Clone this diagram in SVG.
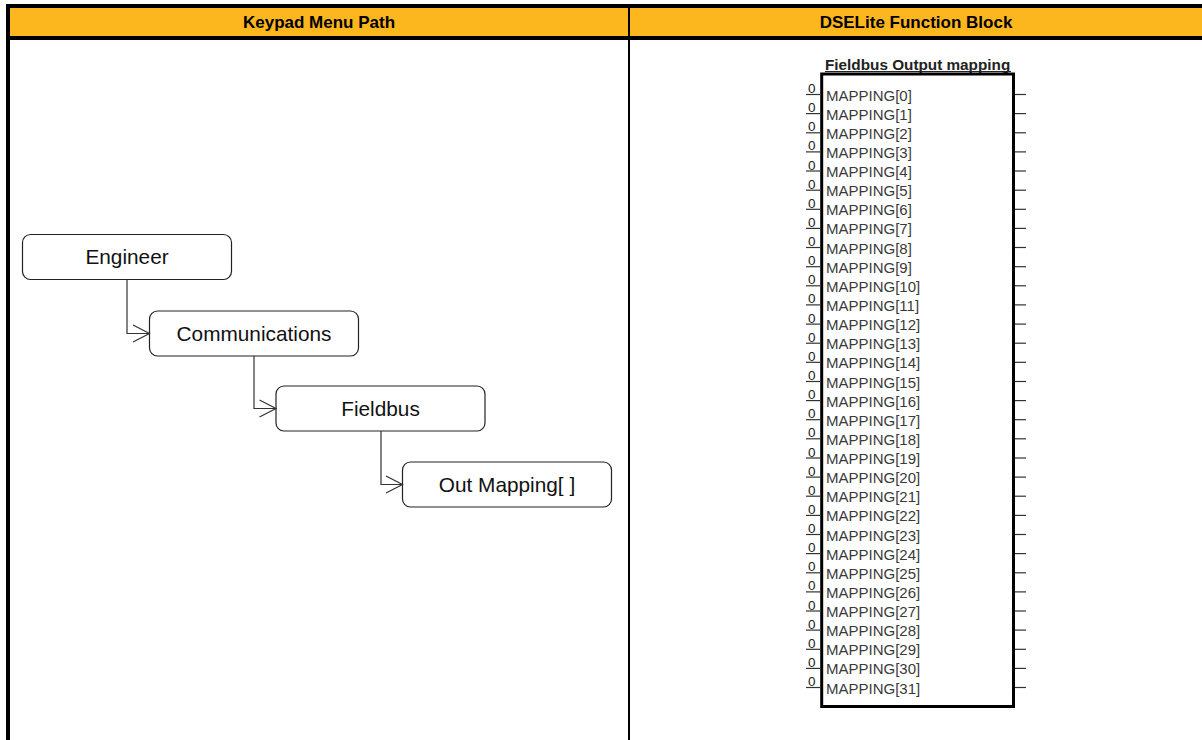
<svg xmlns="http://www.w3.org/2000/svg" width="1202" height="740" viewBox="0 0 1202 740">
<defs>
<style>
.hdr{font-family:"Liberation Sans",Arial,sans-serif;font-weight:bold;font-size:17px;fill:#000;text-anchor:middle}
.node rect{fill:#fff;stroke:#222;stroke-width:1.2}
.node text{font-family:"Liberation Sans",Arial,sans-serif;font-size:20.8px;fill:#111;text-anchor:middle}
.conn path{fill:none;stroke:#333;stroke-width:1.2}
.lbl{font-family:"Liberation Sans",Arial,sans-serif;font-size:15px;fill:#3a3a3a}
.zero{font-family:"Liberation Sans",Arial,sans-serif;font-size:13.5px;fill:#222}
.pin{stroke:#333;stroke-width:1.2}
.ttl{font-family:"Liberation Sans",Arial,sans-serif;font-weight:bold;font-size:15.3px;fill:#222}
</style>
</defs>
<rect width="1202" height="740" fill="#fff"/>
<g id="table">
<rect x="6" y="8" width="1196" height="28" fill="#FDB71E"/>
<rect x="6" y="4" width="1196" height="4" fill="#000"/>
<rect x="6" y="36" width="1196" height="4" fill="#000"/>
<rect x="6" y="4" width="4" height="736" fill="#000"/>
<rect x="628" y="8" width="2" height="732" fill="#000"/>
<text class="hdr" x="319" y="28">Keypad Menu Path</text>
<text class="hdr" x="916" y="28">DSELite Function Block</text>
</g>
<g id="node-engineer" class="node"><rect x="22.5" y="234.5" width="209" height="45" rx="8"/><text x="127" y="264">Engineer</text></g>
<g id="node-communications" class="node"><rect x="149.5" y="311" width="209" height="45" rx="8"/><text x="254" y="340.5">Communications</text></g>
<g id="node-fieldbus" class="node"><rect x="276" y="386" width="209" height="45" rx="8"/><text x="380.5" y="415.5">Fieldbus</text></g>
<g id="node-outmapping" class="node"><rect x="402.5" y="462" width="209" height="45" rx="8"/><text x="507" y="491.5">Out Mapping[ ]</text></g>
<g id="connectors" class="conn">
<path d="M127 279.5 V333.5 H149.5"/><path d="M133 325 L149.5 333.5 L133 342"/>
<path d="M254 356 V408.5 H276"/><path d="M259.5 400 L276 408.5 L259.5 417"/>
<path d="M381 431 V484.5 H402.5"/><path d="M386 476 L402.5 484.5 L386 493"/>
</g>
<g id="function-block">
<text class="ttl" x="825" y="69.5">Fieldbus Output mapping</text>
<line x1="825" y1="71.5" x2="1011" y2="71.5" stroke="#222" stroke-width="1"/>
<rect x="821.7" y="74" width="191.8" height="632.5" fill="#fff" stroke="#000" stroke-width="3"/>
<g id="pins">
<line class="pin" x1="806" y1="94.5" x2="821" y2="94.5"/><line class="pin" x1="1015" y1="94.5" x2="1026" y2="94.5"/><text class="zero" x="808" y="93">0</text><text class="lbl" x="826" y="100.5">MAPPING[0]</text>
<line class="pin" x1="806" y1="113.6" x2="821" y2="113.6"/><line class="pin" x1="1015" y1="113.6" x2="1026" y2="113.6"/><text class="zero" x="808" y="112.1">0</text><text class="lbl" x="826" y="119.6">MAPPING[1]</text>
<line class="pin" x1="806" y1="132.8" x2="821" y2="132.8"/><line class="pin" x1="1015" y1="132.8" x2="1026" y2="132.8"/><text class="zero" x="808" y="131.3">0</text><text class="lbl" x="826" y="138.8">MAPPING[2]</text>
<line class="pin" x1="806" y1="151.9" x2="821" y2="151.9"/><line class="pin" x1="1015" y1="151.9" x2="1026" y2="151.9"/><text class="zero" x="808" y="150.4">0</text><text class="lbl" x="826" y="157.9">MAPPING[3]</text>
<line class="pin" x1="806" y1="171" x2="821" y2="171"/><line class="pin" x1="1015" y1="171" x2="1026" y2="171"/><text class="zero" x="808" y="169.5">0</text><text class="lbl" x="826" y="177">MAPPING[4]</text>
<line class="pin" x1="806" y1="190.2" x2="821" y2="190.2"/><line class="pin" x1="1015" y1="190.2" x2="1026" y2="190.2"/><text class="zero" x="808" y="188.7">0</text><text class="lbl" x="826" y="196.2">MAPPING[5]</text>
<line class="pin" x1="806" y1="209.3" x2="821" y2="209.3"/><line class="pin" x1="1015" y1="209.3" x2="1026" y2="209.3"/><text class="zero" x="808" y="207.8">0</text><text class="lbl" x="826" y="215.3">MAPPING[6]</text>
<line class="pin" x1="806" y1="228.4" x2="821" y2="228.4"/><line class="pin" x1="1015" y1="228.4" x2="1026" y2="228.4"/><text class="zero" x="808" y="226.9">0</text><text class="lbl" x="826" y="234.4">MAPPING[7]</text>
<line class="pin" x1="806" y1="247.5" x2="821" y2="247.5"/><line class="pin" x1="1015" y1="247.5" x2="1026" y2="247.5"/><text class="zero" x="808" y="246">0</text><text class="lbl" x="826" y="253.5">MAPPING[8]</text>
<line class="pin" x1="806" y1="266.7" x2="821" y2="266.7"/><line class="pin" x1="1015" y1="266.7" x2="1026" y2="266.7"/><text class="zero" x="808" y="265.2">0</text><text class="lbl" x="826" y="272.7">MAPPING[9]</text>
<line class="pin" x1="806" y1="285.8" x2="821" y2="285.8"/><line class="pin" x1="1015" y1="285.8" x2="1026" y2="285.8"/><text class="zero" x="808" y="284.3">0</text><text class="lbl" x="826" y="291.8">MAPPING[10]</text>
<line class="pin" x1="806" y1="304.9" x2="821" y2="304.9"/><line class="pin" x1="1015" y1="304.9" x2="1026" y2="304.9"/><text class="zero" x="808" y="303.4">0</text><text class="lbl" x="826" y="310.9">MAPPING[11]</text>
<line class="pin" x1="806" y1="324.1" x2="821" y2="324.1"/><line class="pin" x1="1015" y1="324.1" x2="1026" y2="324.1"/><text class="zero" x="808" y="322.6">0</text><text class="lbl" x="826" y="330.1">MAPPING[12]</text>
<line class="pin" x1="806" y1="343.2" x2="821" y2="343.2"/><line class="pin" x1="1015" y1="343.2" x2="1026" y2="343.2"/><text class="zero" x="808" y="341.7">0</text><text class="lbl" x="826" y="349.2">MAPPING[13]</text>
<line class="pin" x1="806" y1="362.3" x2="821" y2="362.3"/><line class="pin" x1="1015" y1="362.3" x2="1026" y2="362.3"/><text class="zero" x="808" y="360.8">0</text><text class="lbl" x="826" y="368.3">MAPPING[14]</text>
<line class="pin" x1="806" y1="381.5" x2="821" y2="381.5"/><line class="pin" x1="1015" y1="381.5" x2="1026" y2="381.5"/><text class="zero" x="808" y="380">0</text><text class="lbl" x="826" y="387.5">MAPPING[15]</text>
<line class="pin" x1="806" y1="400.6" x2="821" y2="400.6"/><line class="pin" x1="1015" y1="400.6" x2="1026" y2="400.6"/><text class="zero" x="808" y="399.1">0</text><text class="lbl" x="826" y="406.6">MAPPING[16]</text>
<line class="pin" x1="806" y1="419.7" x2="821" y2="419.7"/><line class="pin" x1="1015" y1="419.7" x2="1026" y2="419.7"/><text class="zero" x="808" y="418.2">0</text><text class="lbl" x="826" y="425.7">MAPPING[17]</text>
<line class="pin" x1="806" y1="438.8" x2="821" y2="438.8"/><line class="pin" x1="1015" y1="438.8" x2="1026" y2="438.8"/><text class="zero" x="808" y="437.3">0</text><text class="lbl" x="826" y="444.8">MAPPING[18]</text>
<line class="pin" x1="806" y1="458" x2="821" y2="458"/><line class="pin" x1="1015" y1="458" x2="1026" y2="458"/><text class="zero" x="808" y="456.5">0</text><text class="lbl" x="826" y="464">MAPPING[19]</text>
<line class="pin" x1="806" y1="477.1" x2="821" y2="477.1"/><line class="pin" x1="1015" y1="477.1" x2="1026" y2="477.1"/><text class="zero" x="808" y="475.6">0</text><text class="lbl" x="826" y="483.1">MAPPING[20]</text>
<line class="pin" x1="806" y1="496.2" x2="821" y2="496.2"/><line class="pin" x1="1015" y1="496.2" x2="1026" y2="496.2"/><text class="zero" x="808" y="494.7">0</text><text class="lbl" x="826" y="502.2">MAPPING[21]</text>
<line class="pin" x1="806" y1="515.4" x2="821" y2="515.4"/><line class="pin" x1="1015" y1="515.4" x2="1026" y2="515.4"/><text class="zero" x="808" y="513.9">0</text><text class="lbl" x="826" y="521.4">MAPPING[22]</text>
<line class="pin" x1="806" y1="534.5" x2="821" y2="534.5"/><line class="pin" x1="1015" y1="534.5" x2="1026" y2="534.5"/><text class="zero" x="808" y="533">0</text><text class="lbl" x="826" y="540.5">MAPPING[23]</text>
<line class="pin" x1="806" y1="553.6" x2="821" y2="553.6"/><line class="pin" x1="1015" y1="553.6" x2="1026" y2="553.6"/><text class="zero" x="808" y="552.1">0</text><text class="lbl" x="826" y="559.6">MAPPING[24]</text>
<line class="pin" x1="806" y1="572.8" x2="821" y2="572.8"/><line class="pin" x1="1015" y1="572.8" x2="1026" y2="572.8"/><text class="zero" x="808" y="571.3">0</text><text class="lbl" x="826" y="578.8">MAPPING[25]</text>
<line class="pin" x1="806" y1="591.9" x2="821" y2="591.9"/><line class="pin" x1="1015" y1="591.9" x2="1026" y2="591.9"/><text class="zero" x="808" y="590.4">0</text><text class="lbl" x="826" y="597.9">MAPPING[26]</text>
<line class="pin" x1="806" y1="611" x2="821" y2="611"/><line class="pin" x1="1015" y1="611" x2="1026" y2="611"/><text class="zero" x="808" y="609.5">0</text><text class="lbl" x="826" y="617">MAPPING[27]</text>
<line class="pin" x1="806" y1="630.1" x2="821" y2="630.1"/><line class="pin" x1="1015" y1="630.1" x2="1026" y2="630.1"/><text class="zero" x="808" y="628.6">0</text><text class="lbl" x="826" y="636.1">MAPPING[28]</text>
<line class="pin" x1="806" y1="649.3" x2="821" y2="649.3"/><line class="pin" x1="1015" y1="649.3" x2="1026" y2="649.3"/><text class="zero" x="808" y="647.8">0</text><text class="lbl" x="826" y="655.3">MAPPING[29]</text>
<line class="pin" x1="806" y1="668.4" x2="821" y2="668.4"/><line class="pin" x1="1015" y1="668.4" x2="1026" y2="668.4"/><text class="zero" x="808" y="666.9">0</text><text class="lbl" x="826" y="674.4">MAPPING[30]</text>
<line class="pin" x1="806" y1="687.5" x2="821" y2="687.5"/><line class="pin" x1="1015" y1="687.5" x2="1026" y2="687.5"/><text class="zero" x="808" y="686">0</text><text class="lbl" x="826" y="693.5">MAPPING[31]</text>
</g>
</g>
</svg>
